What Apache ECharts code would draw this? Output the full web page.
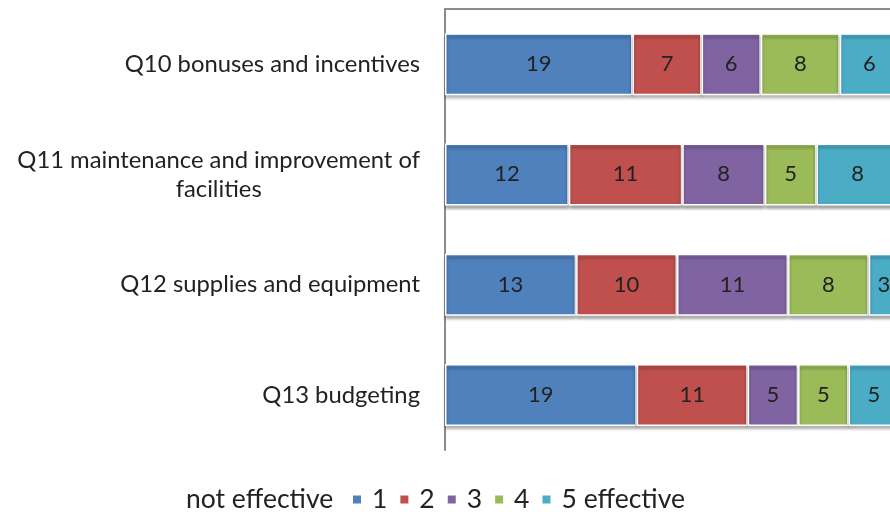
<!DOCTYPE html>
<html>
<head>
<meta charset="utf-8">
<script src="https://cdn.jsdelivr.net/npm/echarts@6/dist/echarts.min.js"></script>
<style>
  html, body { margin: 0; padding: 0; background: #fff; overflow: hidden; }
  /* the reference is cropped on the right, so the chart runs a bit past the window */
  #chart { width: 905px; height: 512px; }
</style>
</head>
<body>
<div id="chart"></div>
<script>
var questions = ['Q10 bonuses and incentives', 'Q11 maintenance and improvement of\nfacilities', 'Q12 supplies and equipment', 'Q13 budgeting'];
var ratingNames = ['1', '2', '3', '4', '5 effective'];
var rating1 = [19, 12, 13, 19];
var rating2 = [7, 11, 10, 11];
var rating3 = [6, 8, 11, 5];
var rating4 = [8, 5, 8, 5];
var rating5 = [6, 8, 3, 5];
var colors = ['#4F81BD', '#C0504D', '#8064A2', '#9BBB59', '#4BACC6'];

var allRatings = [rating1, rating2, rating3, rating4, rating5];
// 100% stacked, so each bar is a share of its row total
var totals = questions.map(function (q, i) {
    return allRatings.reduce(function (s, arr) { return s + arr[i]; }, 0);
});

var series = allRatings.map(function (arr, k) {
    return {
        name: ratingNames[k],
        type: 'bar',
        stack: 'all',
        barWidth: 62,
        itemStyle: {
            color: colors[k],
            borderColor: '#fff',
            borderWidth: 1.5,
            shadowColor: 'rgba(0,0,0,0.35)',
            shadowBlur: 3,
            shadowOffsetY: 3
        },
        label: {
            show: true,
            position: 'inside',
            color: '#222',
            fontFamily: 'Lato',
            fontSize: 22,
            formatter: function (p) { return p.data.raw; }
        },
        data: arr.map(function (v, i) {
            return { value: v / totals[i] * 100, raw: v };
        })
    };
});

var myChart = echarts.init(document.getElementById('chart'));
myChart.setOption({
    animation: false,
    textStyle: { fontFamily: 'Lato' },
    grid: { left: 445, top: 9, width: 454, height: 441 },
    xAxis: {
        type: 'value',
        position: 'top',
        min: 0,
        max: 100,
        axisLine: { show: true, lineStyle: { color: '#8c8c8c', width: 2 } },
        axisTick: { show: false },
        axisLabel: { show: false },
        splitLine: { show: false }
    },
    yAxis: {
        type: 'category',
        inverse: true,
        data: questions,
        axisLine: { show: true, lineStyle: { color: '#8c8c8c', width: 2 } },
        axisTick: { show: false },
        axisLabel: {
            margin: 25,
            color: '#222',
            fontSize: 23.8,
            lineHeight: 29,
            formatter: function (v) {
                return v.split('\n').map(function (s) { return '{c|' + s + '}'; }).join('\n');
            },
            rich: { c: { align: 'center', fontSize: 23.8, color: '#222', fontFamily: 'Lato', lineHeight: 29 } }
        }
    },
    legend: {
        left: 351,
        top: 486,
        padding: 0,
        itemWidth: 10,
        itemHeight: 10,
        itemGap: 11,
        icon: 'rect',
        textStyle: { fontSize: 26.5, color: '#222', fontFamily: 'Lato', padding: [0, 0, 0, 5] },
        data: ratingNames
    },
    graphic: [{
        type: 'text',
        left: 186,
        top: 486,
        style: { text: 'not effective', fontSize: 26.5, fill: '#222', fontFamily: 'Lato' }
    }],
    series: series
});
</script>
</body>
</html>
